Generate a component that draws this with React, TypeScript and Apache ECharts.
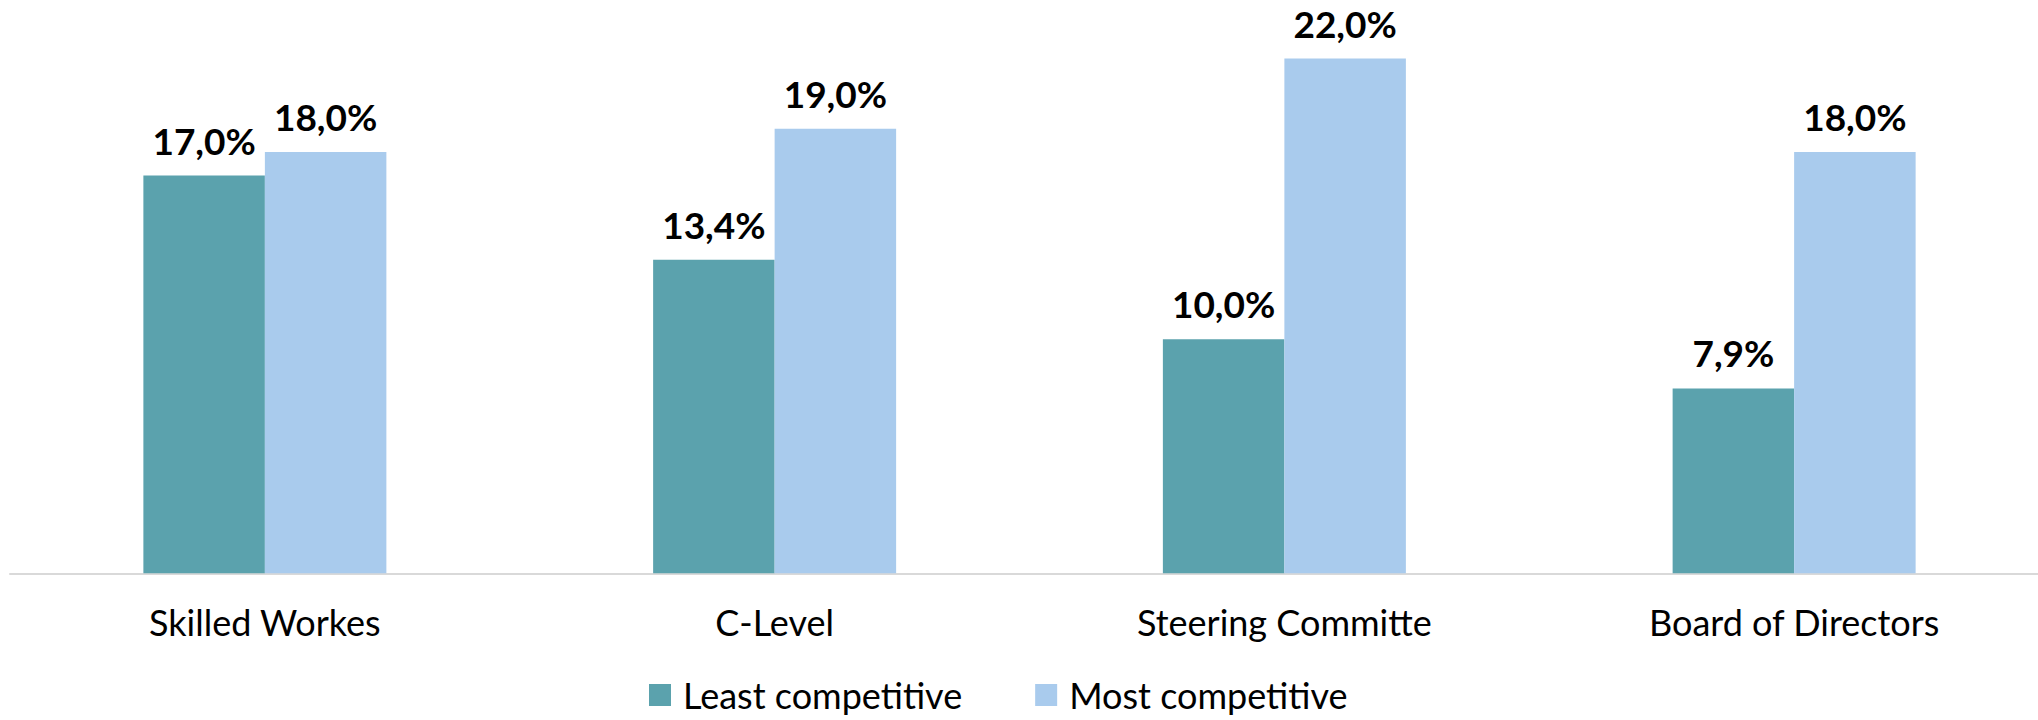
import React, { useEffect, useRef } from "react";
import * as echarts from "echarts";

const categories = ["Skilled Workes", "C-Level", "Steering Committe", "Board of Directors"];
const leastCompetitive = [17.0, 13.4, 10.0, 7.9];
const mostCompetitive = [18.0, 19.0, 22.0, 18.0];
const seriesNames = ["Least competitive", "Most competitive"];

const FONT = "Lato, 'Noto Sans', sans-serif";

export default function App() {
  const ref = useRef<HTMLDivElement>(null);
  useEffect(() => {
    if (!ref.current) return;
    const chart = echarts.init(ref.current, null, { renderer: "svg" });
    const fmt = (p: any) => p.value.toFixed(1).replace(".", ",") + "%";
    const label = {
      show: true,
      position: "top",
      distance: 17,
      formatter: fmt,
      fontFamily: FONT,
      fontWeight: "bold",
      fontSize: 37,
      color: "#000",
    };
    chart.setOption({
      animation: false,
      backgroundColor: "#fff",
      grid: { left: 10, right: 11, top: 11.7, bottom: 146.7, containLabel: false },
      legend: {
        bottom: 0,
        left: 644,
        itemWidth: 22,
        itemHeight: 22,
        itemGap: 73,
        icon: "rect",
        textStyle: { fontFamily: FONT, fontSize: 36, lineHeight: 40, color: "#000", padding: [0, 0, 0, 7] },
        data: seriesNames,
      },
      xAxis: {
        type: "category",
        data: categories,
        axisLine: { show: true, lineStyle: { color: "#d9d9d9", width: 2 } },
        axisTick: { show: false },
        axisLabel: { fontFamily: FONT, fontSize: 36, color: "#000", margin: 31 },
      },
      yAxis: {
        type: "value",
        min: 0,
        max: 24,
        show: false,
        splitLine: { show: false },
      },
      series: [
        {
          name: seriesNames[0],
          type: "bar",
          data: leastCompetitive,
          barWidth: 121.5,
          barGap: "0%",
          itemStyle: { color: "#5ba2ad" },
          label,
        },
        {
          name: seriesNames[1],
          type: "bar",
          data: mostCompetitive,
          barWidth: 121.5,
          barGap: "0%",
          itemStyle: { color: "#a9cbed" },
          label,
        },
      ],
    });
    return () => chart.dispose();
  }, []);
  return (
    <div style={{ position: "absolute", left: 0, top: 0, width: 2038, height: 720, overflow: "hidden" }}>
      <div ref={ref} style={{ width: 2060, height: 720 }} />
    </div>
  );
}
